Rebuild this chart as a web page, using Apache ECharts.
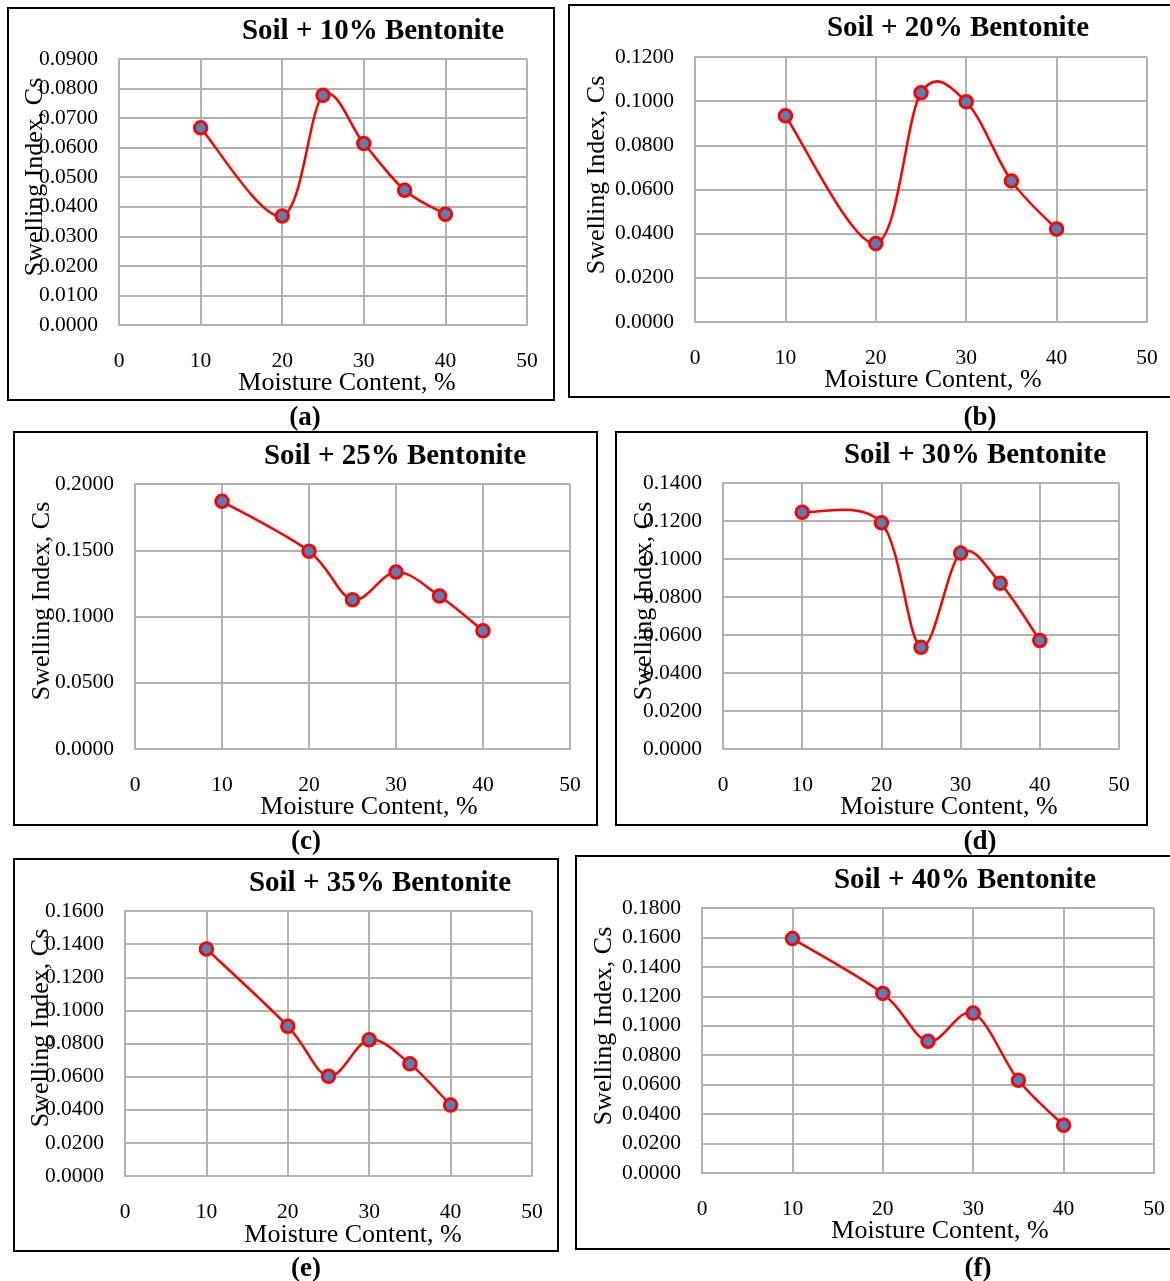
<!DOCTYPE html>
<html>
<head>
<meta charset="utf-8">
<script src="https://cdn.jsdelivr.net/npm/echarts@6/dist/echarts.min.js"></script>
<style>
html,body{margin:0;padding:0;background:#fff;}
#c{width:1170px;height:1281px;}
</style>
</head>
<body>
<div id="c"></div>
<script>
// ---- data ----
var moisture = [10, 20, 25, 30, 35, 40];
var cs10 = [0.0667, 0.0369, 0.0777, 0.0614, 0.0456, 0.0375];
var cs20 = [0.0934, 0.0355, 0.1038, 0.0997, 0.0639, 0.0421];
var cs25 = [0.1869, 0.1493, 0.1127, 0.1336, 0.1155, 0.0893];
var cs30 = [0.1246, 0.1191, 0.0536, 0.1031, 0.0873, 0.0571];
var cs35 = [0.1371, 0.0904, 0.0602, 0.0823, 0.0677, 0.0428];
var cs40 = [0.1592, 0.1220, 0.0895, 0.1086, 0.0630, 0.0324];
var titles = ['Soil + 10% Bentonite','Soil + 20% Bentonite','Soil + 25% Bentonite','Soil + 30% Bentonite','Soil + 35% Bentonite','Soil + 40% Bentonite'];
var captions = ['(a)','(b)','(c)','(d)','(e)','(f)'];
var yMax = [0.09, 0.12, 0.2, 0.14, 0.16, 0.18];
var yStep = [0.01, 0.02, 0.05, 0.02, 0.02, 0.02];
var xTitle = 'Moisture Content, %';
var yTitle = 'Swelling Index, Cs';

// ---- layout ----
var FONT = "'Liberation Serif','Times New Roman',serif";
var panels = [
  {grid:[119,59,408,266], box:[8,8,546,392], title:[373,32], cap:[305,418], xt:[347,383], yt:[35,177]},
  {grid:[695,57,452,265], box:[569,5,620,392], title:[958,29], cap:[980,418], xt:[933,380], yt:[597,175]},
  {grid:[135,484,435,265], box:[14,432,583,393], title:[395,457], cap:[306,842], xt:[369,807], yt:[42,601]},
  {grid:[723,483,396,266], box:[616,432,531,393], title:[975,456], cap:[980,842], xt:[949,807], yt:[644,601]},
  {grid:[125,911,407,265], box:[14,859,544,392], title:[380,884], cap:[306,1269], xt:[353,1235], yt:[41,1028]},
  {grid:[702,908,452,265], box:[576,856,620,393], title:[965,881], cap:[978,1269], xt:[940,1231], yt:[604,1026]}
];
var allData = [cs10, cs20, cs25, cs30, cs35, cs40];

function makeRender(pts){
  // Catmull-Rom style (Excel-like) smoothing between data points, in pixel space
  return function(params, api){
    var i = params.dataIndex;
    if (i >= pts.length - 1) return null;
    var P = pts.map(function(p){ return api.coord(p); });
    var p0 = P[i], p1 = P[i+1];
    var pm = P[i-1] || p0, p2 = P[i+2] || p1;
    var c1 = [p0[0] + (p1[0]-pm[0])/6, p0[1] + (p1[1]-pm[1])/6];
    var c2 = [p1[0] - (p2[0]-p0[0])/6, p1[1] - (p2[1]-p0[1])/6];
    return {type:'bezierCurve',
      shape:{x1:p0[0], y1:p0[1], cpx1:c1[0], cpy1:c1[1], cpx2:c2[0], cpy2:c2[1], x2:p1[0], y2:p1[1]},
      style:{stroke:'#ff0000', lineWidth:2.5, fill:null}};
  };
}

var grids = [], xAxes = [], yAxes = [], series = [], graphics = [];
var gridLine = {show:true, lineStyle:{color:'#b2b2b2', width:2}};
panels.forEach(function(p, i){
  var pts = moisture.map(function(m, k){return [m, allData[i][k]];});
  grids.push({left:p.grid[0], top:p.grid[1], width:p.grid[2], height:p.grid[3], containLabel:false});
  xAxes.push({type:'value', gridIndex:i, min:0, max:50, interval:10,
    axisLine:{show:true, lineStyle:{color:'#b2b2b2', width:2}}, axisTick:{show:false},
    splitLine:gridLine,
    axisLabel:{color:'#000', fontFamily:FONT, fontSize:21.5, margin:25}});
  yAxes.push({type:'value', gridIndex:i, min:0, max:yMax[i], interval:yStep[i],
    axisLine:{show:true, lineStyle:{color:'#b2b2b2', width:2}}, axisTick:{show:false},
    splitLine:gridLine,
    axisLabel:{color:'#000', fontFamily:FONT, fontSize:21.5, margin:21,
      formatter:function(v){return v.toFixed(4);}}});
  series.push({type:'custom', xAxisIndex:i, yAxisIndex:i, data:pts,
    renderItem:makeRender(pts), z:2, silent:true});
  series.push({type:'scatter', xAxisIndex:i, yAxisIndex:i, data:pts,
    symbol:'circle', symbolSize:12.5,
    itemStyle:{color:'#4f81bd', borderColor:'#ff0000', borderWidth:3, opacity:1},
    z:3});
  graphics.push({type:'rect', shape:{x:p.box[0], y:p.box[1], width:p.box[2], height:p.box[3]},
    style:{fill:null, stroke:'#000', lineWidth:2}, silent:true});
  graphics.push({type:'text', x:p.title[0], y:p.title[1],
    style:{text:titles[i], font:'bold 29px '+FONT, fill:'#000', textAlign:'center', textVerticalAlign:'middle'}});
  graphics.push({type:'text', x:p.cap[0], y:p.cap[1],
    style:{text:captions[i], font:'bold 27px '+FONT, fill:'#000', textAlign:'center', textVerticalAlign:'middle'}});
  graphics.push({type:'text', x:p.xt[0], y:p.xt[1],
    style:{text:xTitle, font:'26px '+FONT, fill:'#000', textAlign:'center', textVerticalAlign:'middle'}});
  graphics.push({type:'text', x:p.yt[0], y:p.yt[1], rotation:Math.PI/2,
    style:{text:yTitle, font:'26px '+FONT, fill:'#000', textAlign:'center', textVerticalAlign:'middle'}});
});

var chart = echarts.init(document.getElementById('c'), null, {renderer:'canvas'});
chart.setOption({
  animation:false,
  backgroundColor:'#fff',
  grid:grids, xAxis:xAxes, yAxis:yAxes, series:series,
  graphic:graphics
});
</script>
</body>
</html>
